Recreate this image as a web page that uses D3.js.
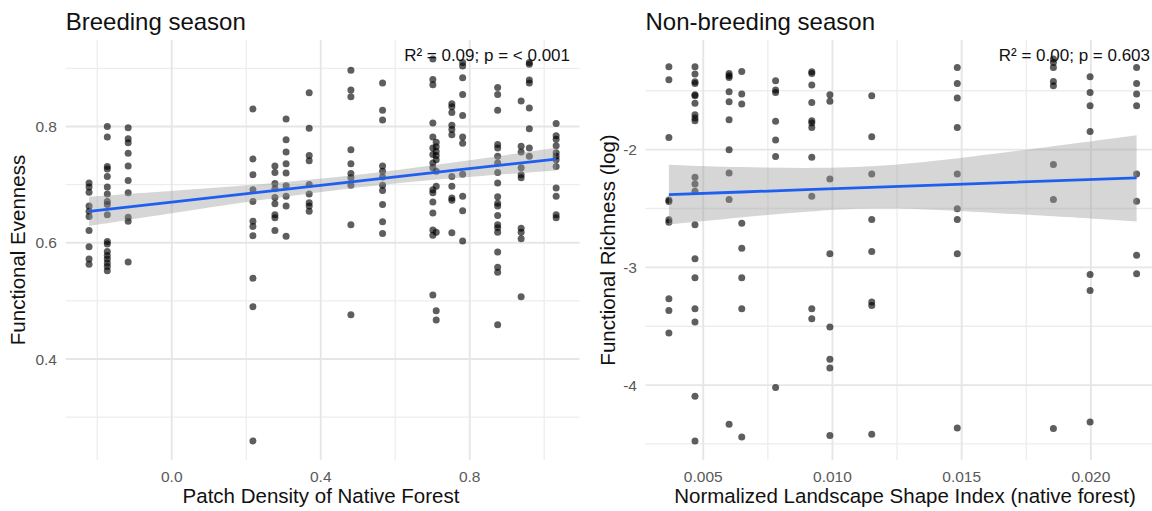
<!DOCTYPE html>
<html>
<head>
<meta charset="utf-8">
<script src="https://cdn.jsdelivr.net/npm/d3@7"></script>
<style>
  body { margin: 0; background: #fff; }
  text { font-family: "Liberation Sans", Arial, sans-serif; }
</style>
</head>
<body>
<svg id="chart" width="1152" height="511"></svg>
<script>
// breeding season: patch density columns and functional evenness values per column
const breedPD = [-0.222, -0.173, -0.117, 0.218, 0.277, 0.307, 0.369, 0.481, 0.566,
  0.701, 0.710, 0.752, 0.781, 0.875, 0.938, 0.960, 1.032];
const breedFE = [
  [0.703, 0.696, 0.687, 0.663, 0.654, 0.645, 0.621, 0.593, 0.572, 0.563],
  [0.800, 0.782, 0.731, 0.727, 0.714, 0.696, 0.684, 0.671, 0.666, 0.648, 0.602, 0.598, 0.585, 0.578, 0.572, 0.565, 0.559, 0.552],
  [0.798, 0.779, 0.772, 0.754, 0.732, 0.707, 0.686, 0.644, 0.637, 0.567],
  [0.830, 0.744, 0.717, 0.691, 0.671, 0.637, 0.628, 0.612, 0.539, 0.490, 0.259],
  [0.732, 0.721, 0.702, 0.693, 0.678, 0.667, 0.648, 0.643, 0.621],
  [0.813, 0.777, 0.756, 0.736, 0.720, 0.698, 0.680, 0.663, 0.611],
  [0.858, 0.797, 0.750, 0.741, 0.700, 0.684, 0.669, 0.663, 0.654],
  [0.897, 0.863, 0.851, 0.760, 0.736, 0.719, 0.712, 0.699, 0.631, 0.476],
  [0.875, 0.828, 0.811, 0.732, 0.723, 0.713, 0.699, 0.690, 0.666, 0.636, 0.616],
  [0.916, 0.881, 0.872, 0.806, 0.782, 0.763, 0.752, 0.737, 0.729, 0.691, 0.686, 0.670, 0.651, 0.622, 0.613, 0.510],
  [0.773, 0.765, 0.757, 0.750, 0.743, 0.723, 0.697, 0.618, 0.483, 0.467],
  [0.839, 0.834, 0.824, 0.802, 0.795, 0.786, 0.714, 0.697, 0.677, 0.673, 0.617],
  [0.910, 0.904, 0.884, 0.855, 0.819, 0.782, 0.771, 0.718, 0.680, 0.655, 0.603],
  [0.867, 0.855, 0.828, 0.769, 0.763, 0.749, 0.737, 0.721, 0.703, 0.679, 0.668, 0.663, 0.647, 0.631, 0.626, 0.618, 0.584, 0.558, 0.549, 0.459],
  [0.844, 0.766, 0.756, 0.729, 0.717, 0.712, 0.625, 0.618, 0.607, 0.507],
  [0.910, 0.907, 0.880, 0.875, 0.832, 0.796, 0.763, 0.749],
  [0.805, 0.784, 0.778, 0.767, 0.755, 0.749, 0.743, 0.731, 0.694, 0.680, 0.648, 0.643]
];
// fitted lm line and 95% band
const breedFitX = [-0.222, 0.0, 0.25, 0.5, 0.75, 1.032];
const breedFitY = [0.654, 0.670, 0.688, 0.706, 0.724, 0.744];
const breedLo = [0.629, 0.651, 0.675, 0.696, 0.711, 0.7245];
const breedHi = [0.679, 0.689, 0.701, 0.716, 0.737, 0.7635];
const breedXTicks = [0.0, 0.4, 0.8];
const breedYTicks = [0.4, 0.6, 0.8];

// non-breeding season: NLSI columns and log functional richness per column
const nonNLSI = [0.00367, 0.00468, 0.0060, 0.00649, 0.0078, 0.0092, 0.0099, 0.01152,
  0.01483, 0.01855, 0.01997, 0.02177];
const nonFR = [
  [-1.296, -1.406, -1.896, -2.427, -2.441, -2.596, -2.617, -3.266, -3.366, -3.558],
  [-1.296, -1.358, -1.423, -1.438, -1.533, -1.542, -1.607, -1.703, -1.731, -1.754, -2.235, -2.291, -2.354, -2.639, -2.927, -3.088, -3.351, -3.465, -4.095, -4.474],
  [-1.353, -1.372, -1.387, -1.508, -1.593, -1.746, -2.0, -2.198, -2.424, -4.332],
  [-1.336, -1.528, -1.612, -2.625, -2.837, -3.088, -3.351, -4.440],
  [-1.415, -1.494, -1.514, -1.760, -1.918, -2.059, -4.021],
  [-1.338, -1.353, -1.451, -1.599, -1.754, -1.774, -1.811, -2.065, -2.396, -3.351, -3.436],
  [-1.533, -1.590, -2.249, -2.885, -3.507, -3.781, -3.855, -4.428],
  [-1.542, -1.890, -2.206, -2.594, -2.865, -3.295, -3.323, -4.417],
  [-1.302, -1.438, -1.561, -1.811, -2.206, -2.503, -2.594, -2.885, -4.364],
  [-1.231, -1.260, -1.302, -1.421, -1.457, -2.127, -2.424, -4.369],
  [-1.381, -1.514, -1.627, -1.845, -3.060, -3.196, -4.313],
  [-1.302, -1.438, -1.528, -1.627, -2.206, -2.438, -2.897, -3.054]
];
const nonFitX = [0.00367, 0.0065, 0.009, 0.0115, 0.0148, 0.02177];
const nonFitY = [-2.382, -2.360, -2.340, -2.321, -2.295, -2.240];
const nonLo = [-2.636, -2.575, -2.525, -2.490, -2.515, -2.610];
const nonHi = [-2.128, -2.150, -2.158, -2.150, -2.080, -1.878];
const nonXTicks = [0.005, 0.010, 0.015, 0.020];
const nonYTicks = [-4, -3, -2];

const svg = d3.select('#chart');
svg.append('rect').attr('width', 1152).attr('height', 511).attr('fill', '#fff');

function expand(ext) {
  const pad = (ext[1] - ext[0]) * 0.05;
  return [ext[0] - pad, ext[1] + pad];
}

function panel(opts) {
  const pts = [];
  opts.xs.forEach((x, i) => opts.ys[i].forEach((y) => pts.push([x, y])));

  const x = d3.scaleLinear()
    .domain(expand(d3.extent(pts, (d) => d[0])))
    .range(opts.xRange);
  const y = d3.scaleLinear()
    .domain(expand(d3.extent(pts, (d) => d[1])))
    .range([460, 40]);

  const g = svg.append('g');

  // minor grid = midpoints between major breaks
  const step = opts.xTicks[1] - opts.xTicks[0];
  const xMinor = d3.range(opts.xTicks[0] - step / 2, x.domain()[1], step)
    .filter((v) => v >= x.domain()[0]);
  const ystep = opts.yTicks[1] - opts.yTicks[0];
  const yMinor = d3.range(opts.yTicks[0] - ystep / 2, y.domain()[1], ystep)
    .filter((v) => v >= y.domain()[0]);

  const [x0, x1] = opts.xRange;
  g.selectAll('.ymin').data(yMinor).enter().append('line')
    .attr('x1', x0).attr('x2', x1)
    .attr('y1', (d) => y(d)).attr('y2', (d) => y(d))
    .attr('stroke', '#ededed').attr('stroke-width', 1.3);
  g.selectAll('.xmin').data(xMinor).enter().append('line')
    .attr('y1', 40).attr('y2', 460)
    .attr('x1', (d) => x(d)).attr('x2', (d) => x(d))
    .attr('stroke', '#ededed').attr('stroke-width', 1.3);
  g.selectAll('.ymaj').data(opts.yTicks).enter().append('line')
    .attr('x1', x0).attr('x2', x1)
    .attr('y1', (d) => y(d)).attr('y2', (d) => y(d))
    .attr('stroke', '#e6e6e6').attr('stroke-width', 1.9);
  g.selectAll('.xmaj').data(opts.xTicks).enter().append('line')
    .attr('y1', 40).attr('y2', 460)
    .attr('x1', (d) => x(d)).attr('x2', (d) => x(d))
    .attr('stroke', '#e6e6e6').attr('stroke-width', 1.9);

  // points
  g.selectAll('circle').data(pts).enter().append('circle')
    .attr('cx', (d) => x(d[0]))
    .attr('cy', (d) => y(d[1]))
    .attr('r', 3.5)
    .attr('fill', '#000')
    .attr('fill-opacity', 0.63);

  // confidence band + fitted line
  const band = opts.fitX.map((v, i) => [v, opts.lo[i], opts.hi[i]]);
  g.append('path')
    .datum(band)
    .attr('d', d3.area()
      .x((d) => x(d[0]))
      .y0((d) => y(d[1]))
      .y1((d) => y(d[2]))
      .curve(d3.curveBasis))
    .attr('fill', '#999')
    .attr('fill-opacity', 0.4);
  g.append('path')
    .datum(opts.fitX.map((v, i) => [v, opts.fitY[i]]))
    .attr('d', d3.line().x((d) => x(d[0])).y((d) => y(d[1])))
    .attr('fill', 'none')
    .attr('stroke', '#1f5ff0')
    .attr('stroke-width', 2.8);

  // tick labels
  g.selectAll('.xt').data(opts.xTicks).enter().append('text')
    .attr('x', (d) => x(d)).attr('y', 482)
    .attr('text-anchor', 'middle')
    .attr('font-size', 15.5).attr('fill', '#595959')
    .text((d) => opts.xFmt(d));
  g.selectAll('.yt').data(opts.yTicks).enter().append('text')
    .attr('x', opts.yTickX).attr('y', (d) => y(d))
    .attr('dy', '0.36em')
    .attr('text-anchor', 'end')
    .attr('font-size', 15.5).attr('fill', '#595959')
    .text((d) => opts.yFmt(d));

  // titles
  g.append('text')
    .attr('x', x0).attr('y', 30)
    .attr('font-size', 24).attr('fill', '#111')
    .text(opts.title);
  g.append('text')
    .attr('x', opts.xTitleX).attr('y', 503)
    .attr('text-anchor', 'middle')
    .attr('font-size', 20.5).attr('fill', '#111')
    .text(opts.xTitle);
  g.append('text')
    .attr('transform', `translate(${opts.yTitleX},250) rotate(-90)`)
    .attr('text-anchor', 'middle')
    .attr('font-size', 20.5).attr('fill', '#111')
    .text(opts.yTitle);
  g.append('text')
    .attr('x', opts.statX).attr('y', 61)
    .attr('text-anchor', 'end')
    .attr('font-size', 17).attr('fill', '#111')
    .text(opts.stat);
}

panel({
  xs: breedPD, ys: breedFE,
  fitX: breedFitX, fitY: breedFitY, lo: breedLo, hi: breedHi,
  xTicks: breedXTicks, yTicks: breedYTicks,
  xRange: [65.7, 579.5],
  xFmt: d3.format('.1f'), yFmt: d3.format('.1f'),
  yTickX: 57,
  yTitleX: 25,
  xTitleX: 321,
  statX: 570,
  title: 'Breeding season',
  xTitle: 'Patch Density of Native Forest',
  yTitle: 'Functional Evenness',
  stat: 'R² = 0.09; p = < 0.001'
});

panel({
  xs: nonNLSI, ys: nonFR,
  fitX: nonFitX, fitY: nonFitY, lo: nonLo, hi: nonHi,
  xTicks: nonXTicks, yTicks: nonYTicks,
  xRange: [645.5, 1160],
  xFmt: d3.format('.3f'), yFmt: (d) => String(d),
  yTickX: 637,
  yTitleX: 615,
  xTitleX: 905,
  statX: 1150,
  title: 'Non-breeding season',
  xTitle: 'Normalized Landscape Shape Index (native forest)',
  yTitle: 'Functional Richness (log)',
  stat: 'R² = 0.00; p = 0.603'
});
</script>
</body>
</html>
